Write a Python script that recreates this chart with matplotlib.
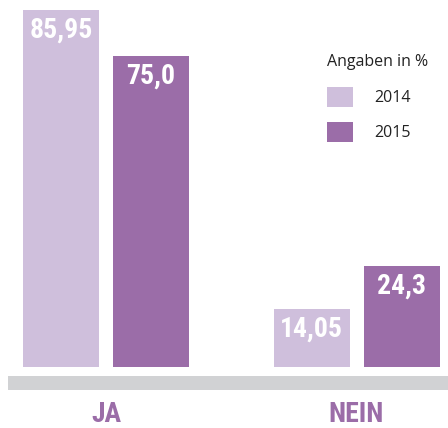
import matplotlib
matplotlib.use("Agg")
import matplotlib.pyplot as plt
from matplotlib.patches import Rectangle

# data
categories = ["JA", "NEIN"]
years = ["2014", "2015"]
values_2014 = [85.95, 14.05]
values_2015 = [75.0, 24.3]
labels_2014 = ["85,95", "14,05"]
labels_2015 = ["75,0", "24,3"]

light = "#cfbfdc"
dark = "#9b6da8"
cond = ["Roboto Condensed", "DejaVu Sans"]

fig = plt.figure(figsize=(4.48, 4.28), dpi=100)
ax = fig.add_axes([0, 61 / 428, 1, 367 / 428])

w = 76 / 250.5
off = 45 / 250.5
x = range(len(categories))
b1 = ax.bar([i - off for i in x], values_2014, w, color=light, lw=0, label=years[0])
b2 = ax.bar([i + off for i in x], values_2015, w, color=dark, lw=0, label=years[1])

for bars, labs in ((b1, labels_2014), (b2, labels_2015)):
    for r, t in zip(bars, labs):
        ax.annotate(t, (r.get_x() + r.get_width() / 2, r.get_height()),
                    xytext=(0, -14.5), textcoords="offset points",
                    ha="center", va="center", color="white",
                    fontsize=20, fontweight="bold", family=cond)

for i, c in enumerate(categories):
    ax.annotate(c, (i, 0), xytext=(0, -34), textcoords="offset points",
                ha="center", va="center", color=dark,
                fontsize=20, fontweight="bold", family=cond)

ax.set_xlim(-106 / 250.5, 342 / 250.5)
ax.set_ylim(0, 367 / 4.15)
ax.axis("off")

# grey base strip
fig.add_artist(Rectangle((8 / 448, 38 / 428), 440 / 448, 14 / 428,
                         transform=fig.transFigure, color="#d1d2d4", lw=0))

leg = ax.legend(title="Angaben in %", loc="upper left",
                bbox_to_anchor=(327 / 448, 1 - 54 / 428),
                bbox_transform=fig.transFigure, frameon=False,
                prop={"family": "Open Sans", "size": 11.5},
                title_fontproperties={"family": "Open Sans", "size": 11.5},
                handlelength=1.6, handleheight=1.55, handletextpad=1.35,
                labelspacing=0.95, borderpad=0, borderaxespad=0)
leg._legend_box.align = "left"
leg._legend_box.sep = 12
for t in leg.get_texts():
    t.set_color("#222222")
leg.get_title().set_color("#222222")

fig.savefig("out.png", dpi=100)
